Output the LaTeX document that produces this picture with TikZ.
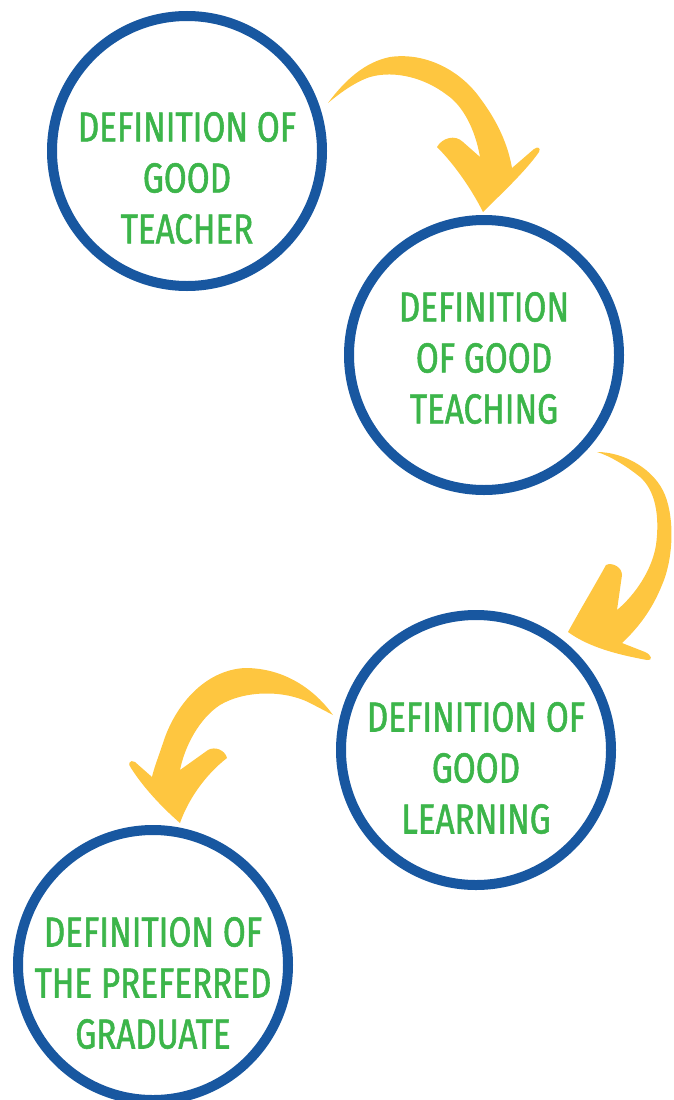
\documentclass[tikz,border=0pt]{standalone}
\usepackage{fontspec}
\newfontfamily\lblfont[FakeStretch=0.79,FakeBold=1.3]{Fira Sans}
\definecolor{ringblue}{RGB}{24,87,160}
\definecolor{txtgreen}{RGB}{60,181,74}
\definecolor{arrowyellow}{RGB}{254,198,64}
\tikzset{
  ring/.style={circle, draw=ringblue, line width=10pt, minimum size=270pt, inner sep=0pt, fill=white},
  lbl/.style={align=center, text=txtgreen, inner sep=0pt, font=\lblfont\fontsize{42}{51}\selectfont},
  bigarrow/.style={fill=arrowyellow, draw=none}
}
\begin{document}
\begin{tikzpicture}[x=1pt,y=-1pt]
\useasboundingbox (0,0) rectangle (673,1100);
% circles
\node[ring] (c1) at (187,151) {};
\node[ring] (c2) at (484,355) {};
\node[ring] (c3) at (476,750) {};
\node[ring] (c4) at (153,965) {};
% texts
\node[lbl] (t1) at (187,178) {DEFINITION OF\\GOOD\\TEACHER};
\node[lbl] (t2) at (484,358) {DEFINITION\\OF GOOD\\TEACHING};
\node[lbl] (t3) at (476,768) {DEFINITION OF\\GOOD\\LEARNING};
\node[lbl] (t4) at (153,983) {DEFINITION OF\\THE PREFERRED\\GRADUATE};
% arrow 1
\fill[bigarrow] (328,103) .. controls (345,80) and (365,62) .. (390,57)
  .. controls (425,52) and (460,70) .. (480,98)
  .. controls (498,122) and (508,145) .. (512,168)
  -- (534,149) .. controls (538,146) and (541,148) .. (539,152)
  .. controls (525,172) and (500,195) .. (483,212)
  .. controls (472,190) and (455,165) .. (437,147)
  .. controls (442,138) and (455,134) .. (463,142)
  -- (480,157)
  .. controls (475,128) and (462,105) .. (447,95)
  .. controls (425,78) and (395,70) .. (370,77)
  .. controls (355,82) and (340,93) .. (328,103) -- cycle;
% arrow 2
\fill[bigarrow] (597,452) .. controls (625,452) and (655,470) .. (665,495)
  .. controls (675,520) and (673,560) .. (662,585)
  .. controls (652,610) and (638,628) .. (622,643)
  -- (645,652) .. controls (652,655) and (653,661) .. (647,660)
  .. controls (620,655) and (590,648) .. (568,632)
  .. controls (580,610) and (595,585) .. (606,565)
  .. controls (612,562) and (622,567) .. (622,575)
  -- (617,610)
  .. controls (635,595) and (652,570) .. (656,545)
  .. controls (660,515) and (655,490) .. (640,477)
  .. controls (625,465) and (610,456) .. (597,452) -- cycle;
% arrow 3
\fill[bigarrow] (333,715) .. controls (315,690) and (285,668) .. (245,668)
  .. controls (205,670) and (175,705) .. (163,743)
  .. controls (158,758) and (154,768) .. (152,777)
  -- (135,762) .. controls (130,759) and (127,764) .. (131,768)
  .. controls (145,790) and (165,810) .. (180,823)
  .. controls (188,800) and (205,775) .. (227,758)
  .. controls (225,750) and (215,746) .. (208,750)
  -- (180,770)
  .. controls (185,745) and (200,718) .. (220,705)
  .. controls (245,690) and (285,690) .. (310,703)
  -- (333,715) -- cycle;
\end{tikzpicture}
\end{document}
